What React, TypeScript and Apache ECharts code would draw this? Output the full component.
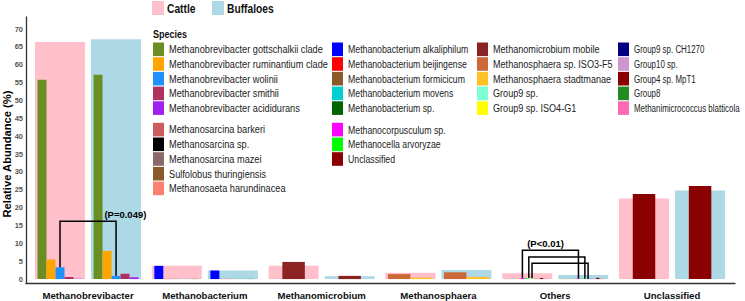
import React, { useEffect, useRef } from 'react';
import * as echarts from 'echarts';

// ---------- data ----------
const categories = ['Methanobrevibacter', 'Methanobacterium', 'Methanomicrobium', 'Methanosphaera', 'Others', 'Unclassified'];
const hostNames = ['Cattle', 'Buffaloes'];
const hostColors = ['#FFC0CB', '#ADD8E6'];
const cattleTotals = [66.4, 3.7, 3.7, 1.8, 1.6, 22.6];
const buffaloTotals = [67.2, 2.4, 0.8, 2.55, 1.15, 24.8];

const speciesNames = [
  'Methanobrevibacter gottschalkii clade', 'Methanobrevibacter ruminantium clade', 'Methanobrevibacter wolinii',
  'Methanobrevibacter smithii', 'Methanobrevibacter acididurans',
  'Methanosarcina barkeri', 'Methanosarcina sp.', 'Methanosarcina mazei', 'Sulfolobus thuringiensis', 'Methanosaeta harundinacea',
  'Methanobacterium alkaliphilum', 'Methanobacterium beijingense', 'Methanobacterium formicicum', 'Methanobacterium movens', 'Methanobacterium sp.',
  'Methanocorpusculum sp.', 'Methanocella arvoryzae', 'Unclassified',
  'Methanomicrobium mobile', 'Methanosphaera sp. ISO3-F5', 'Methanosphaera stadtmanae', 'Group9 sp.', 'Group9 sp. ISO4-G1',
  'Group9 sp. CH1270', 'Group10 sp.', 'Group4 sp. MpT1', 'Group8', 'Methanimicrococcus blatticola',
];
const speciesColors = [
  '#6B8E23', '#FFA500', '#1E90FF', '#B03060', '#A020F0',
  '#CD5C5C', '#000000', '#8B6969', '#8B5A2B', '#FA8072',
  '#0000FF', '#FF0000', '#8B5A2B', '#00CED1', '#006400',
  '#FF00FF', '#00FF00', '#8B0000',
  '#8B2323', '#CD6839', '#FFC125', '#7FFFD4', '#FFFF00',
  '#000080', '#CD96CD', '#8B0000', '#228B22', '#FF69B4',
];

// species (indices into speciesNames) shown within each category
const brevibacterSpecies = [0, 1, 2, 3, 4];
const bacteriumSpecies = [10, 11, 12, 13, 14];
const microbiumSpecies = [18];
const sphaeraSpecies = [19, 20];
const othersSpecies = [5, 6, 7, 8, 9, 15, 16, 21, 22, 23, 24, 25, 26, 27];
const unclassifiedSpecies = [17];
const categorySpecies = [brevibacterSpecies, bacteriumSpecies, microbiumSpecies, sphaeraSpecies, othersSpecies, unclassifiedSpecies];

const brevibacterCattle = [55.8, 5.5, 3.3, 0.6, 0.1];
const brevibacterBuffalo = [57.2, 7.9, 0.9, 1.5, 0.5];
const bacteriumCattle = [3.7, 0.05, 0.05, 0.05, 0.05];
const bacteriumBuffalo = [2.4, 0.05, 0.05, 0.05, 0.05];
const microbiumCattle = [4.8];
const microbiumBuffalo = [0.9];
const sphaeraCattle = [1.4, 0.4];
const sphaeraBuffalo = [1.9, 0.6];
const othersCattle = [0.05, 0.02, 0.05, 0.02, 0.1, 0.35, 0.25, 0.3, 0.2, 0.05, 0.15, 0.3, 0.05, 0.1];
const othersBuffalo = [0.05, 0.02, 0.05, 0.02, 0.1, 0.15, 0.1, 0.1, 0.05, 0.05, 0.2, 0.35, 0.05, 0.1];
const unclassifiedCattle = [23.8];
const unclassifiedBuffalo = [26.1];
const cattleSpecies = [brevibacterCattle, bacteriumCattle, microbiumCattle, sphaeraCattle, othersCattle, unclassifiedCattle];
const buffaloSpecies = [brevibacterBuffalo, bacteriumBuffalo, microbiumBuffalo, sphaeraBuffalo, othersBuffalo, unclassifiedBuffalo];

// significance tests: category, species, bracket level (%)
const sigCategory = [0, 4, 4, 4];
const sigSpecies = [2, 15, 21, 22];
const sigLevel = [16.2, 8.1, 6.2, 4.4];
const sigLabelText = ['(P=0.049)', '(P<0.01)'];
const sigLabelCategory = [0, 4];
const sigLabelLevel = [18.2, 10.0];

const yTicks = [0, 5, 10, 15, 20, 25, 30, 35, 40, 45, 50, 55, 60, 65, 70];

// legend layout: columns of groups of species indices
const legendColumns = [
  [[0, 1, 2, 3, 4], [5, 6, 7, 8, 9]],
  [[10, 11, 12, 13, 14], [15, 16, 17]],
  [[18, 19, 20, 21, 22]],
  [[23, 24, 25, 26, 27]],
];

// ---------- layout constants ----------
const BAR_FRAC = 0.428;
const HOST_OFF = 0.24;
const GROUP_FRAC = 0.385;
const SIG_LABEL_SHIFT = [0.32, -0.083];
const SANS = '"Liberation Sans", Arial, sans-serif';
const COL_X = [153, 332, 477, 618];
const COL_SCALE = [0.8, 0.76, 0.79, 0.69];

function hostCenter(api: any, cat: number, host: number) {
  const band = api.size([1, 0])[0];
  const [cx] = api.coord([cat, 0]);
  return { cx: cx + (host === 0 ? -1 : 1) * HOST_OFF * band, band };
}

function slotX(api: any, cat: number, host: number, slot: number, nSlots: number) {
  const { cx, band } = hostCenter(api, cat, host);
  const gw = GROUP_FRAC * band;
  const sw = gw / Math.max(nSlots, 2);
  const x = nSlots === 1 ? cx - sw / 2 : cx - gw / 2 + slot * sw;
  return { x, w: sw };
}

function buildBgData() {
  const d: number[][] = [];
  categories.forEach((_, c) => {
    d.push([c, 0, cattleTotals[c]]);
    d.push([c, 1, buffaloTotals[c]]);
  });
  return d;
}

function buildSpeciesData() {
  const d: number[][] = [];
  categories.forEach((_, c) => {
    const sp = categorySpecies[c];
    sp.forEach((s, k) => {
      d.push([c, 0, k, sp.length, cattleSpecies[c][k], s]);
      d.push([c, 1, k, sp.length, buffaloSpecies[c][k], s]);
    });
  });
  return d;
}

function buildSigData() {
  return sigCategory.map((c, i) => {
    const k = categorySpecies[c].indexOf(sigSpecies[i]);
    return [c, k, categorySpecies[c].length, cattleSpecies[c][k], buffaloSpecies[c][k], sigLevel[i]];
  });
}

function narrowText(x: number, y: number, text: string, size: number, bold: boolean, fill: string, scale: number) {
  return {
    type: 'text', x, y, scaleX: scale, scaleY: 1,
    style: { text, fontFamily: SANS, fontWeight: bold ? 'bold' : 'normal', fontSize: size, fill, verticalAlign: 'middle', align: 'left' },
  };
}

function buildLegend() {
  const els: any[] = [];
  hostNames.forEach((n, i) => {
    const x0 = 152 + i * 60;
    els.push({ type: 'rect', shape: { x: x0, y: 1, width: 12, height: 14 }, style: { fill: hostColors[i] } });
    els.push(narrowText(x0 + 15, 8.5, n, 12.5, true, '#111', 0.82));
  });
  els.push(narrowText(153, 34, 'Species', 11, true, '#111', 0.82));
  legendColumns.forEach((groups, ci) => {
    let y = 49.3;
    groups.forEach((g, gi) => {
      if (gi > 0) y += 6.8;
      g.forEach((s) => {
        els.push({ type: 'rect', shape: { x: COL_X[ci], y: y - 6.8, width: 11, height: 13.6 }, style: { fill: speciesColors[s] } });
        els.push(narrowText(COL_X[ci] + 16, y, speciesNames[s], 11.5, false, '#222', COL_SCALE[ci]));
        y += 14.7;
      });
    });
  });
  els.push({
    type: 'text', x: 7, y: 154, rotation: Math.PI / 2,
    style: { text: 'Relative Abundance (%)', fontFamily: SANS, fontWeight: 'bold', fontSize: 11.2, fill: '#000', align: 'center', verticalAlign: 'middle' },
  });
  return els;
}

export default function App() {
  const ref = useRef<HTMLDivElement>(null);
  useEffect(() => {
    if (!ref.current) return;
    const chart = echarts.init(ref.current, null, { renderer: 'svg' });
    const option: any = {
      animation: false,
      backgroundColor: '#fff',
      textStyle: { fontFamily: SANS },
      grid: { left: 26, right: 10, top: 17, bottom: 18, containLabel: false, outerBoundsMode: 'none' },
      xAxis: {
        type: 'value', min: -0.531, max: 5.539,
        splitLine: { show: false },
        axisTick: { show: false },
        axisLine: { show: true, onZero: false, lineStyle: { color: '#333', width: 1.3 } },
        axisLabel: {
          customValues: [0, 1, 2, 3, 4, 5],
          formatter: (v: number) => categories[Math.round(v)] ?? '',
          fontFamily: SANS, fontWeight: 'bold', fontSize: 9.6, color: '#111', margin: 7,
        },
      },
      yAxis: {
        type: 'value', min: -1.1, max: 73.4,
        splitLine: { show: false },
        axisTick: { show: false },
        axisLine: { show: true, onZero: false, lineStyle: { color: '#333', width: 1.3 } },
        axisLabel: {
          customValues: yTicks,
          fontFamily: SANS, fontWeight: 'bold', fontSize: 7.5, color: '#555', margin: 3,
        },
      },
      graphic: buildLegend(),
      series: [
        {
          type: 'custom', name: 'hosts', clip: false, silent: true,
          data: buildBgData(),
          encode: { x: 0, y: 2 },
          renderItem: (params: any, api: any) => {
            const cat = api.value(0), host = api.value(1), v = api.value(2);
            const { cx, band } = hostCenter(api, cat, host);
            const w = BAR_FRAC * band;
            const y0 = api.coord([cat, 0])[1];
            const y1 = api.coord([cat, v])[1];
            return { type: 'rect', shape: { x: cx - w / 2, y: y1, width: w, height: y0 - y1 }, style: { fill: hostColors[host] } };
          },
        },
        {
          type: 'custom', name: 'species', clip: false, silent: true,
          data: buildSpeciesData(),
          encode: { x: 0, y: 4 },
          renderItem: (params: any, api: any) => {
            const cat = api.value(0), host = api.value(1), slot = api.value(2), n = api.value(3), v = api.value(4), s = api.value(5);
            const { x, w } = slotX(api, cat, host, slot, n);
            const y0 = api.coord([cat, 0])[1];
            const y1 = api.coord([cat, v])[1];
            return { type: 'rect', shape: { x, y: y1, width: w, height: y0 - y1 }, style: { fill: speciesColors[s] } };
          },
        },
        {
          type: 'custom', name: 'significance', clip: false, silent: true,
          data: buildSigData(),
          encode: { x: 0, y: 5 },
          renderItem: (params: any, api: any) => {
            const cat = api.value(0), slot = api.value(1), n = api.value(2);
            const vl = api.value(3), vr = api.value(4), lvl = api.value(5);
            const a = slotX(api, cat, 0, slot, n);
            const b = slotX(api, cat, 1, slot, n);
            const xl = a.x + a.w / 2, xr = b.x + b.w / 2;
            const yl = api.coord([cat, vl])[1];
            const yr = api.coord([cat, vr])[1];
            const yt = api.coord([cat, lvl])[1];
            return {
              type: 'polyline',
              shape: { points: [[xl, yl], [xl, yt], [xr, yt], [xr, yr]] },
              style: { stroke: '#000', lineWidth: 1.5, fill: 'none' },
            };
          },
        },
        {
          type: 'custom', name: 'pvalues', clip: false, silent: true,
          data: sigLabelText.map((t, i) => [sigLabelCategory[i], sigLabelLevel[i], i]),
          encode: { x: 0, y: 1 },
          renderItem: (params: any, api: any) => {
            const cat = api.value(0), lvl = api.value(1), i = api.value(2);
            const [x, y] = api.coord([cat + SIG_LABEL_SHIFT[i], lvl]);
            return {
              type: 'text', x, y,
              style: { text: sigLabelText[i], fontFamily: SANS, fontWeight: 'bold', fontSize: 9.5, fill: '#000', align: 'center', verticalAlign: 'middle' },
            };
          },
        },
      ],
    };
    chart.setOption(option);
    return () => chart.dispose();
  }, []);
  return <div ref={ref} style={{ position: 'absolute', left: 0, top: 0, width: 745, height: 301 }} />;
}
